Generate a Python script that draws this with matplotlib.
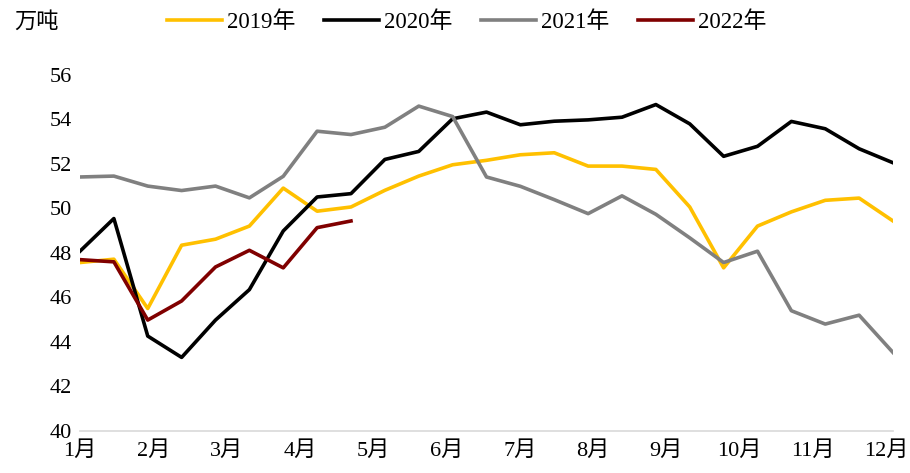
import matplotlib
matplotlib.use("Agg")
import matplotlib.pyplot as plt
import numpy as np

plt.rcParams["font.family"] = ["Liberation Serif", "Noto Sans CJK SC", "DejaVu Sans"]

months = ["1月", "2月", "3月", "4月", "5月", "6月",
          "7月", "8月", "9月", "10月", "11月", "12月"]

# roughly biweekly readings, 25 per year
y2019 = [47.56, 47.71, 45.49, 48.34, 48.61, 49.20, 50.91, 49.87, 50.06, 50.81,
         51.45, 51.96, 52.16, 52.41, 52.50, 51.90, 51.90, 51.75, 50.06, 47.32,
         49.20, 49.84, 50.36, 50.46, 49.43]
y2020 = [48.07, 49.54, 44.25, 43.29, 44.97, 46.34, 48.98, 50.51, 50.66, 52.20,
         52.56, 54.03, 54.33, 53.76, 53.92, 53.98, 54.10, 54.67, 53.80, 52.34,
         52.79, 53.91, 53.58, 52.68, 52.05]
y2021 = [51.41, 51.45, 51.00, 50.80, 51.00, 50.47, 51.44, 53.47, 53.32, 53.65,
         54.60, 54.13, 51.41, 50.99, 50.39, 49.76, 50.56, 49.73, 48.67, 47.56,
         48.07, 45.39, 44.79, 45.19, 43.51]
y2022 = [47.69, 47.59, 44.97, 45.83, 47.36, 48.11, 47.32, 49.13, 49.43]

series = [
    ("2019年", y2019, "#FFC000"),
    ("2020年", y2020, "#000000"),
    ("2021年", y2021, "#808080"),
    ("2022年", y2022, "#800000"),
]

fig = plt.figure(figsize=(9.10, 4.73), dpi=100)
ax = fig.add_axes([80 / 910, 1 - 430.5 / 473, 813 / 910, 355.5 / 473])

for label, values, color in series:
    ax.plot(np.arange(len(values)), values, color=color, linewidth=2.6, label=label)

ax.set_xlim(0, 24)
ax.set_ylim(40, 56)
ax.set_yticks(range(40, 57, 2))
# month labels sit a little short of the last reading
ax.set_xticks(np.linspace(0, 23.8, len(months)))
ax.set_xticklabels(months)
ax.tick_params(axis="both", length=0, labelsize=16)
ax.tick_params(axis="x", pad=8)
ax.tick_params(axis="y", pad=6)

for side in ["left", "right", "top"]:
    ax.spines[side].set_visible(False)
ax.spines["bottom"].set_color("#d9d9d9")
ax.spines["bottom"].set_linewidth(1.2)

fig.text(14 / 910, 1 - 22 / 473, "万吨", fontsize=16, va="center", ha="left")
fig.legend(loc="center", bbox_to_anchor=(467 / 910, 1 - 22 / 473), ncol=4,
           frameon=False, fontsize=16.5, handlelength=2.4, handletextpad=0.22,
           columnspacing=1.25)

fig.savefig("out.png", dpi=100)
